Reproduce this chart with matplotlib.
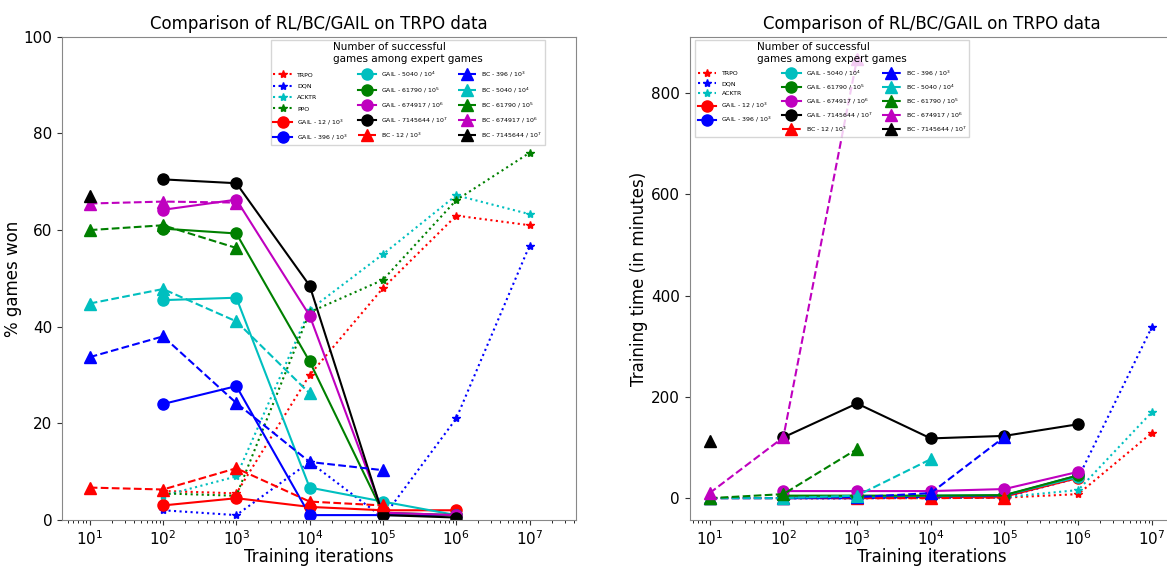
import matplotlib
matplotlib.use('Agg')
import matplotlib.pyplot as plt
import numpy as np

# training iterations
iters = [1e1, 1e2, 1e3, 1e4, 1e5, 1e6, 1e7]

# RL baselines (x = 1e2 .. 1e7)
rl_x = iters[1:]
won_trpo = [6, 5.5, 30, 48, 63, 61]
won_dqn = [2, 1, 12, 0.5, 21, 56.8]
won_acktr = [5, 9, 43.5, 55, 67.2, 63.3]
won_ppo = [5.5, 5, 43, 49.7, 66.2, 76]

time_trpo = [0, 0, 0, 1, 8, 129]
time_dqn = [0, 0, 1, 2, 40, 338]
time_acktr = [0, 0, 1, 2, 16, 170]

# GAIL (x = 1e2 .. 1e6), one series per number of expert games
gail_x = iters[1:6]
gail_labels = ['GAIL - 12 / $10^3$', 'GAIL - 396 / $10^3$', 'GAIL - 5040 / $10^4$',
               'GAIL - 61790 / $10^5$', 'GAIL - 674917 / $10^6$', 'GAIL - 7145644 / $10^7$']
won_gail = [
    [3, 4.5, 2.7, 2, 2],
    [24, 27.7, 1, 1, 1],
    [45.5, 46, 6.7, 3.8, 1],
    [60.3, 59.3, 32.8, 1.5, 1],
    [64.2, 66.3, 42.3, 1.5, 1],
    [70.5, 69.7, 48.5, 1, 0.5],
]
time_gail = [
    [2, 2, 2, 3, 40],
    [0, 0, 3, 5, 45],
    [1, 3, 5, 6, 42],
    [5, 5, 5, 6, 45],
    [14, 14, 14, 18, 52],
    [120, 187, 118, 123, 146],
]

# BC (x starts at 1e1, series have different lengths)
bc_labels = ['BC - 12 / $10^3$', 'BC - 396 / $10^3$', 'BC - 5040 / $10^4$',
             'BC - 61790 / $10^5$', 'BC - 674917 / $10^6$', 'BC - 7145644 / $10^7$']
won_bc = [
    [6.7, 6.3, 10.7, 3.8, 3],
    [33.7, 38, 24.2, 12, 10.3],
    [44.8, 47.8, 41.1, 26.2],
    [60, 61, 56.3],
    [65.5, 65.9, 65.7],
    [67],
]
time_bc = [
    [0, 0, 0, 0, 1],
    [0, 0, 2, 10, 121],
    [0, 0, 5, 77],
    [0, 8, 97],
    [10, 120, 868],
    [113],
]

colors = ['r', 'b', 'c', 'g', 'm', 'k']

fig = plt.figure(figsize=(11.67, 5.67), dpi=100)
ax1 = fig.add_axes([0.053, 0.083, 0.441, 0.852])
ax2 = fig.add_axes([0.591, 0.083, 0.415, 0.852])


def draw(ax, rl, gail, bc):
    for name, vals, c in rl:
        ax.plot(rl_x, vals, ':', color=c, marker='*', markersize=6, label=name)
    for i, vals in enumerate(gail):
        ax.plot(gail_x[:len(vals)], vals, '-', color=colors[i], marker='o',
                markersize=8, lw=1.5, label=gail_labels[i])
    for i, vals in enumerate(bc):
        ax.plot(iters[:len(vals)], vals, '--', color=colors[i], marker='^',
                markersize=8, lw=1.5, label=bc_labels[i])
    ax.set_xscale('log')
    ax.set_xticks(iters)
    ax.set_title('Comparison of RL/BC/GAIL on TRPO data', fontsize=12)
    ax.set_xlabel('Training iterations', fontsize=12, labelpad=0)
    ax.tick_params(labelsize=11, colors='#333333', labelcolor='black')
    for s in ax.spines.values():
        s.set_color('#888888')


draw(ax1,
     [('TRPO', won_trpo, 'r'), ('DQN', won_dqn, 'b'),
      ('ACKTR', won_acktr, 'c'), ('PPO', won_ppo, 'g')],
     won_gail, won_bc)
ax1.set_xlim(10 ** 0.62, 10 ** 7.64)
ax1.set_ylim(0, 100)
ax1.set_ylabel('% games won', fontsize=12)
ax1.yaxis.set_label_coords(-0.077, 0.5)

draw(ax2,
     [('TRPO', time_trpo, 'r'), ('DQN', time_dqn, 'b'), ('ACKTR', time_acktr, 'c')],
     time_gail, time_bc)
ax2.set_xlim(10 ** 0.73, 10 ** 7.3)
ax2.set_ylim(-43, 911)
ax2.set_yticks([0, 200, 400, 600, 800])
ax2.set_ylabel('Training time (in minutes)', fontsize=12)
ax2.yaxis.set_label_coords(-0.087, 0.5)

leg_kw = dict(ncol=3, fontsize=4.5, title='Number of successful\ngames among expert games',
              title_fontsize=7.5, labelspacing=0.95, handlelength=3, columnspacing=1.5,
              framealpha=0.8, edgecolor='#cccccc', fancybox=False)
ax1.legend(loc='upper right', bbox_to_anchor=(0.945, 1.0), **leg_kw)
leg2 = dict(leg_kw, labelspacing=0.75)
ax2.legend(loc='upper left', bbox_to_anchor=(0.005, 1.0), **leg2)

plt.savefig('out.png', dpi=100)
